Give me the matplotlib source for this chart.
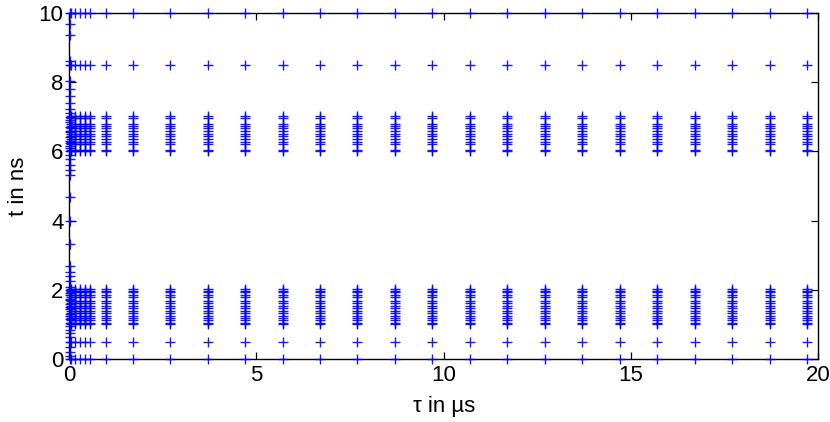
import numpy as np
import matplotlib.pyplot as plt

plt.rcParams['font.family'] = ['Liberation Sans', 'DejaVu Sans']

# tau positions (us) of the regular columns
tau_cols = [0.05, 0.17, 0.30, 0.43, 0.57, 1.0,
            1.7, 2.7, 3.7, 4.7, 5.7, 6.7, 7.7, 8.7, 9.7, 10.7,
            11.7, 12.7, 13.7, 14.7, 15.7, 16.7, 17.7, 18.7, 19.7]

# t values (ns) repeated in each regular column
t_cols = [0.0, 0.5,
          1.01, 1.06, 1.12, 1.18, 1.25, 1.35, 1.40, 1.47, 1.55, 1.62,
          1.69, 1.79, 1.85, 1.93, 1.98, 2.02,
          6.0, 6.03, 6.2, 6.27, 6.35, 6.45, 6.5, 6.59, 6.67, 6.72,
          6.78, 6.97, 7.01,
          8.5, 10.0]

# dense column right at tau ~ 0
tau_axis = 0.02
t_axis = [0.0, 0.1, 0.2, 0.35, 0.5, 0.65, 0.75, 0.85, 0.95,
          1.05, 1.15, 1.25, 1.3, 1.45, 1.5, 1.6, 1.7, 1.75, 1.85, 1.9, 2.0,
          2.1, 2.25, 2.39, 2.53, 2.68, 3.33, 3.98, 4.67,
          5.33, 5.47, 5.62, 5.78, 5.9,
          6.0, 6.1, 6.15, 6.25, 6.3, 6.4, 6.55, 6.6, 6.7, 6.85, 6.9, 7.0,
          7.1, 7.22, 7.4, 7.59, 7.8, 8.02, 8.5, 8.6, 9.35, 9.66, 10.0]

xx, yy = np.meshgrid(tau_cols, t_cols)

fig = plt.figure(figsize=(8.3, 4.22), dpi=100)
ax = fig.add_axes([0.0831, 0.1486, 0.9029, 0.8213])

ax.plot(xx.ravel(), yy.ravel(), '+', color=(0, 0, 1), markersize=6.5,
        markeredgewidth=1.0, alpha=0.9, clip_on=False, zorder=3)
ax.plot([tau_axis] * len(t_axis), t_axis, '+', color=(0, 0, 1),
        markersize=6.5, markeredgewidth=1.0, alpha=0.9, clip_on=False,
        zorder=3)

ax.set_xlim(0, 20)
ax.set_ylim(0, 10)
ax.set_xticks([0, 5, 10, 15, 20])
ax.set_yticks([0, 2, 4, 6, 8, 10])
ax.tick_params(direction='in', top=True, right=True, length=5, width=0.9,
               labelsize=16, pad=4)
for s in ax.spines.values():
    s.set_linewidth(1.0)

ax.set_xlabel('τ in µs', fontsize=16, labelpad=7)
ax.set_ylabel('t in ns', fontsize=16, labelpad=7)

fig.savefig('out.png', dpi=100)
